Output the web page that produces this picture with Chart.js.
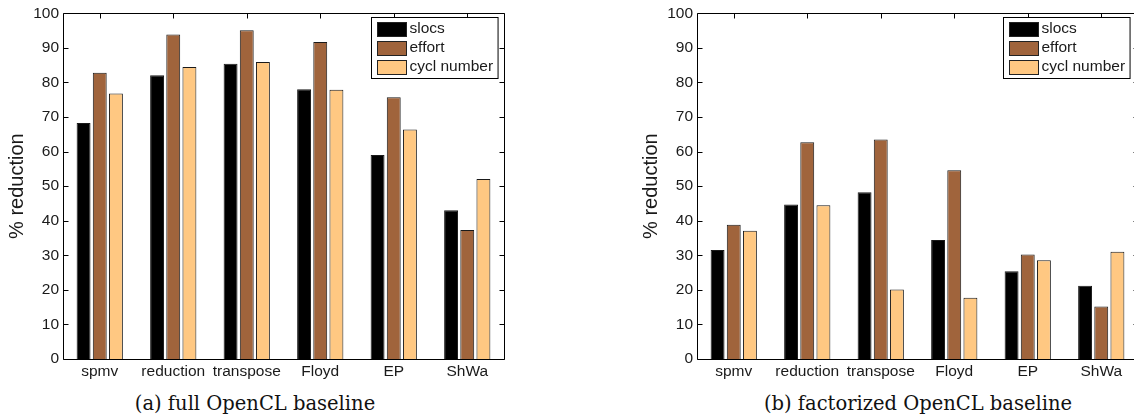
<!DOCTYPE html>
<html>
<head>
<meta charset="utf-8">
<script src="https://cdn.jsdelivr.net/npm/chart.js@4.4.1/dist/chart.umd.min.js"></script>
<style>
  body { margin: 0; width: 1134px; height: 417px; overflow: hidden; background: #fff; position: relative; }
  .box { position: absolute; top: 0; width: 560px; height: 390px; }
  .cap { position: absolute; top: 392px; font-family: "DejaVu Serif", serif; font-size: 19.5px; color: #111; white-space: nowrap; transform: translateX(-50%); }
</style>
</head>
<body>
<div class="box" style="left:0"><canvas id="fullChart"></canvas></div>
<div class="box" style="left:634px"><canvas id="factChart"></canvas></div>
<div class="cap" style="left:255px">(a) full OpenCL baseline</div>
<div class="cap" style="left:918px">(b) factorized OpenCL baseline</div>

<script>
// benchmarks on the x axis
const benchmarks = ['spmv', 'reduction', 'transpose', 'Floyd', 'EP', 'ShWa'];
const seriesNames = ['slocs', 'effort', 'cycl number'];
const seriesColors = ['#000000', '#a0643c', '#ffc882'];

// (a) full OpenCL baseline, % reduction
const fullSlocs  = [68.3, 82.1, 85.4, 78.0, 59.0, 43.0];
const fullEffort = [82.8, 93.9, 95.1, 91.7, 75.7, 37.3];
const fullCycl   = [76.8, 84.5, 85.9, 77.9, 66.4, 52.1];

// (b) factorized OpenCL baseline, % reduction
const factSlocs  = [31.5, 44.7, 48.2, 34.4, 25.4, 21.2];
const factEffort = [38.8, 62.7, 63.5, 54.6, 30.2, 15.2];
const factCycl   = [37.1, 44.5, 20.1, 17.7, 28.6, 31.0];

const yMin = 0, yMax = 100, yStep = 10;

const tickFont = { family: '"Liberation Sans", Arial, sans-serif', size: 15.5 };
const textColor = '#1a1a1a';

// matlab style box: frame + inward ticks, drawn under the bars
const matlabFrame = {
    id: 'matlabFrame',
    beforeDatasetsDraw(chart) {
        const ctx = chart.ctx;
        const a = chart.chartArea;
        const xs = chart.scales.x, ys = chart.scales.y;
        const L = Math.round(a.left) + 0.5, R = Math.round(a.right) + 0.5;
        const T = Math.round(a.top) + 0.5, B = Math.round(a.bottom) + 0.5;
        ctx.save();
        ctx.strokeStyle = '#000';
        ctx.lineWidth = 1;
        ctx.beginPath();
        ctx.rect(L, T, R - L, B - T);
        ys.ticks.forEach((t) => {          // y ticks on left and right
            const y = Math.round(ys.getPixelForValue(t.value)) + 0.5;
            ctx.moveTo(L, y); ctx.lineTo(L + 5, y);
            ctx.moveTo(R, y); ctx.lineTo(R - 5, y);
        });
        xs.ticks.forEach((t, i) => {       // category ticks top and bottom
            const x = Math.round(xs.getPixelForTick(i)) + 0.5;
            ctx.moveTo(x, T); ctx.lineTo(x, T + 5);
            ctx.moveTo(x, B); ctx.lineTo(x, B - 5);
        });
        ctx.stroke();
        ctx.restore();
    },
    afterDraw(chart, args, opts) {
        // legend box in the upper right corner of the axes
        const ctx = chart.ctx;
        const a = chart.chartArea;
        ctx.save();
        ctx.font = `${tickFont.size}px ${tickFont.family}`;
        const items = chart.data.datasets;
        const textW = Math.max(...items.map(d => ctx.measureText(d.label).width));
        const w = 6 + 29 + 3 + textW + 5;
        const h = 61;
        const x0 = Math.round(a.right - opts.right - w) + 0.5;
        const y0 = Math.round(a.top + 4) + 0.5;
        ctx.fillStyle = '#fff';
        ctx.fillRect(x0, y0, w, h);
        ctx.strokeStyle = '#000';
        ctx.lineWidth = 1;
        ctx.strokeRect(x0, y0, w, h);
        items.forEach((d, i) => {
            const cy = y0 + 11.5 + i * 19;
            ctx.fillStyle = d.backgroundColor;
            ctx.fillRect(x0 + 6, cy - 7, 29, 14);
            ctx.strokeStyle = '#222';
            ctx.strokeRect(x0 + 6, Math.round(cy - 7) + 0.5, 29, 14);
            ctx.fillStyle = textColor;
            ctx.textBaseline = 'middle';
            ctx.fillText(d.label, x0 + 38, cy);
        });
        ctx.restore();
    }
};

function makeChart(id, slocs, effort, cycl, legendRight) {
    const values = [slocs, effort, cycl];
    return new Chart(document.getElementById(id), {
        type: 'bar',
        data: {
            labels: benchmarks,
            datasets: values.map((v, i) => ({
                label: seriesNames[i],
                data: v,
                backgroundColor: seriesColors[i],
                borderColor: '#1a1a1a',
                borderWidth: 1,
                borderSkipped: 'bottom',
                categoryPercentage: 0.66,
                barPercentage: 0.86
            }))
        },
        options: {
            responsive: true,
            maintainAspectRatio: false,
            animation: false,
            events: [],
            layout: { padding: { top: 12, right: 56, bottom: 9, left: 0 } },
            scales: {
                x: {
                    grid: { display: false, drawTicks: false },
                    border: { display: false },
                    ticks: { font: tickFont, color: textColor, padding: 3, maxRotation: 0, autoSkip: false },
                    afterFit(scale) { scale.height = 22; }
                },
                y: {
                    min: yMin,
                    max: yMax,
                    grid: { display: false, drawTicks: false },
                    border: { display: false },
                    ticks: { stepSize: yStep, font: tickFont, color: textColor, padding: 4 },
                    title: {
                        display: true,
                        text: '% reduction',
                        font: { family: tickFont.family, size: 20 },
                        color: textColor,
                        padding: { top: 5, bottom: 0 }
                    },
                    afterFit(scale) { scale.width = 63; }
                }
            },
            plugins: {
                legend: { display: false },
                tooltip: { enabled: false },
                matlabFrame: { right: legendRight }
            }
        },
        plugins: [matlabFrame]
    });
}

makeChart('fullChart', fullSlocs, fullEffort, fullCycl, 6);
makeChart('factChart', factSlocs, factEffort, factCycl, 8);
</script>
</body>
</html>
